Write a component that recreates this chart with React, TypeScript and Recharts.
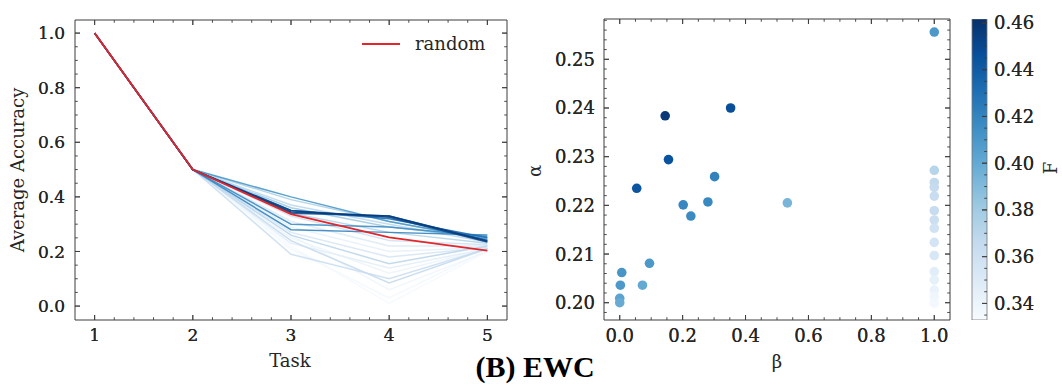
import React from "react";
import { LineChart, Line, XAxis, YAxis, Legend, ScatterChart, Scatter, Cell, BarChart, Bar } from "recharts";

const TASKS = [1, 2, 3, 4, 5];
const RANDOM = [1.0, 0.5, 0.337, 0.252, 0.203];

// forgetting F of each EWC run and its average accuracy after each task
const RUN_F = [0.334, 0.336, 0.338, 0.34, 0.343, 0.346, 0.35, 0.354, 0.358, 0.362, 0.366, 0.37, 0.372, 0.368, 0.375, 0.38, 0.41, 0.416, 0.42, 0.432, 0.442, 0.45, 0.458];
const RUN_ACC = [
  [1, 0.5, 0.22, 0.01, 0.2],
  [1, 0.5, 0.21, 0.03, 0.205],
  [1, 0.5, 0.26, 0.06, 0.2],
  [1, 0.5, 0.25, 0.12, 0.21],
  [1, 0.5, 0.29, 0.2, 0.215],
  [1, 0.5, 0.23, 0.14, 0.21],
  [1, 0.5, 0.31, 0.22, 0.22],
  [1, 0.5, 0.27, 0.18, 0.215],
  [1, 0.5, 0.33, 0.24, 0.225],
  [1, 0.5, 0.19, 0.1, 0.21],
  [1, 0.5, 0.24, 0.085, 0.21],
  [1, 0.5, 0.26, 0.155, 0.22],
  [1, 0.5, 0.34, 0.27, 0.23],
  [1, 0.5, 0.37, 0.3, 0.235],
  [1, 0.5, 0.39, 0.31, 0.24],
  [1, 0.5, 0.36, 0.29, 0.25],
  [1, 0.5, 0.4, 0.31, 0.245],
  [1, 0.5, 0.3, 0.29, 0.255],
  [1, 0.5, 0.28, 0.27, 0.26],
  [1, 0.5, 0.35, 0.32, 0.25],
  [1, 0.5, 0.34, 0.33, 0.24],
  [1, 0.5, 0.35, 0.325, 0.235],
  [1, 0.5, 0.345, 0.33, 0.238],
];

// hyper-parameter scatter: beta, alpha and the F of each point
const BETA = [1, 1, 1, 1, 1, 1, 1, 1, 1, 1, 1, 1, 1, 1, 1.0, 0.1445, 0.3525, 0.155, 0.054, 0.3016, 0.2018, 0.2803, 0.2261, 0.533, 0.0946, 0.0064, 0.002, 0.0723, 0.0, 0.0];
const ALPHA = [0.2272, 0.2247, 0.2237, 0.2219, 0.2189, 0.217, 0.2153, 0.2124, 0.2097, 0.2064, 0.2047, 0.2026, 0.2012, 0.1999, 0.2556, 0.2384, 0.24, 0.2294, 0.2235, 0.2259, 0.2201, 0.2207, 0.2178, 0.2205, 0.2081, 0.2062, 0.2036, 0.2036, 0.2009, 0.2];
const POINT_F = [0.371, 0.367, 0.365, 0.363, 0.364, 0.361, 0.358, 0.356, 0.353, 0.347, 0.344, 0.341, 0.338, 0.336, 0.41, 0.458, 0.447, 0.445, 0.443, 0.421, 0.419, 0.418, 0.417, 0.393, 0.41, 0.411, 0.409, 0.4, 0.403, 0.399];

const F_MIN = 0.3329;
const F_MAX = 0.4617;

const ACC_TICKS = [0, 0.2, 0.4, 0.6, 0.8, 1.0];
const BETA_TICKS = [0, 0.2, 0.4, 0.6, 0.8, 1.0];
const ALPHA_TICKS = [0.2, 0.21, 0.22, 0.23, 0.24, 0.25];
const F_TICKS = [0.34, 0.36, 0.38, 0.4, 0.42, 0.44, 0.46];

const FONT = "'DejaVu Serif', serif";
const INK = "#262626";
const FRAME = "#3c3c3c";
const BLUES = ["#f7fbff", "#deebf7", "#c6dbef", "#9ecae1", "#6baed6", "#4292c6", "#2171b5", "#08519c", "#08306b"];

const hex = (h: string) => [1, 3, 5].map((i) => parseInt(h.slice(i, i + 2), 16));
function blues(f: number) {
  const t = Math.max(0, Math.min(1, (f - F_MIN) / (F_MAX - F_MIN))) * 8;
  const i = Math.min(7, Math.floor(t));
  const k = t - i;
  const a = hex(BLUES[i]);
  const b = hex(BLUES[i + 1]);
  const c = a.map((v, j) => Math.round(v + (b[j] - v) * k));
  return `rgb(${c[0]},${c[1]},${c[2]})`;
}

function steps(from: number, to: number, step: number) {
  const out: number[] = [];
  const n = Math.round((to - from) / step);
  for (let i = 0; i <= n; i++) out.push(+(from + i * step).toFixed(6));
  return out;
}

type Side = "bottom" | "top" | "left" | "right";

const axisTick =
  (side: Side, majors: number[], fmt: ((v: number) => string) | null, size = 17, gap = 8) =>
  (p: any) => {
    const { x, y } = p;
    const v = p.payload.value;
    const major = majors.some((m) => Math.abs(m - v) < 1e-9);
    const len = major ? 5 : 2.8;
    const tl =
      side === "bottom"
        ? { x1: x, x2: x, y1: y, y2: y - len }
        : side === "top"
        ? { x1: x, x2: x, y1: y, y2: y + len }
        : side === "left"
        ? { x1: x, x2: x + len, y1: y, y2: y }
        : { x1: x, x2: x - len, y1: y, y2: y };
    let label = null;
    if (fmt && major) {
      const common = { fontFamily: FONT, fontSize: size, fill: INK };
      if (side === "bottom")
        label = (
          <text x={x} y={y + gap} dy="0.76em" textAnchor="middle" {...common}>
            {fmt(v)}
          </text>
        );
      else if (side === "left")
        label = (
          <text x={x - gap} y={y} dy="0.36em" textAnchor="end" {...common}>
            {fmt(v)}
          </text>
        );
      else if (side === "right")
        label = (
          <text x={x + gap} y={y} dy="0.36em" textAnchor="start" {...common}>
            {fmt(v)}
          </text>
        );
    }
    return (
      <g>
        <line {...tl} stroke={FRAME} strokeWidth={0.9} />
        {label}
      </g>
    );
  };

const axisLine = { stroke: FRAME, strokeWidth: 1 };

const lineData = TASKS.map((t, i) => {
  const row: any = { task: t, random: RANDOM[i] };
  RUN_ACC.forEach((r, j) => (row[`r${j}`] = r[i]));
  return row;
});
const lineOrder = RUN_F.map((f, i) => i).sort((a, b) => RUN_F[a] - RUN_F[b]);

const scatterData = BETA.map((b, i) => ({ beta: b, alpha: ALPHA[i], F: POINT_F[i] }));
const barData = [{ name: "F", span: [F_MIN, F_MAX] }];

const taskTicks = [...TASKS, ...steps(1, 5, 0.2)];
const accTicks = [...ACC_TICKS, ...steps(0, 1, 0.05)];
const betaTicks = [...BETA_TICKS, ...steps(0, 1, 0.05)];
const alphaTicks = [...ALPHA_TICKS, ...steps(0.198, 0.258, 0.002)];
const fTicks = [...F_TICKS, ...steps(0.335, 0.46, 0.005)];

const renderLegend = (props: any) => {
  const items = (props.payload || []).filter((e: any) => e.dataKey === "random");
  return (
    <div>
      {items.map((e: any) => (
        <div key={e.value} style={{ display: "flex", alignItems: "center", height: 22 }}>
          <svg width={42} height={22}>
            <line x1={2} x2={40} y1={11} y2={11} stroke={e.color} strokeWidth={1.8} />
          </svg>
          <span style={{ marginLeft: 13, fontFamily: FONT, fontSize: 18, color: INK, lineHeight: "22px" }}>
            {e.value}
          </span>
        </div>
      ))}
    </div>
  );
};

function AccuracyChart() {
  return (
    <LineChart width={520} height={392} data={lineData} margin={{ top: 19, right: 12, bottom: 71, left: 0 }}>
      <XAxis
        type="number"
        dataKey="task"
        domain={[0.8, 5.2]}
        allowDataOverflow
        ticks={taskTicks}
        interval={0}
        height={1}
        tickSize={0}
        tickMargin={0}
        tickLine={false}
        axisLine={axisLine}
        tick={axisTick("bottom", TASKS, (v) => String(v), 17, 8)}
      />
      <XAxis
        xAxisId="top"
        orientation="top"
        type="number"
        dataKey="task"
        domain={[0.8, 5.2]}
        allowDataOverflow
        ticks={taskTicks}
        interval={0}
        height={1}
        tickSize={0}
        tickMargin={0}
        tickLine={false}
        axisLine={axisLine}
        tick={axisTick("top", TASKS, null)}
      />
      <YAxis
        type="number"
        domain={[-0.051, 1.048]}
        allowDataOverflow
        ticks={accTicks}
        interval={0}
        width={75}
        tickSize={0}
        tickMargin={0}
        tickLine={false}
        axisLine={axisLine}
        tick={axisTick("left", ACC_TICKS, (v) => v.toFixed(1), 17, 10)}
      />
      <YAxis
        yAxisId="right"
        orientation="right"
        type="number"
        domain={[-0.051, 1.048]}
        allowDataOverflow
        ticks={accTicks}
        interval={0}
        width={1}
        tickSize={0}
        tickMargin={0}
        tickLine={false}
        axisLine={axisLine}
        tick={axisTick("right", ACC_TICKS, null)}
      />
      {lineOrder.map((i) => (
        <Line
          key={i}
          type="linear"
          dataKey={`r${i}`}
          stroke={blues(RUN_F[i])}
          strokeOpacity={0.9}
          strokeWidth={1.5}
          dot={false}
          legendType="none"
          isAnimationActive={false}
        />
      ))}
      <Line
        type="linear"
        dataKey="random"
        name="random"
        stroke="#e3262b"
        strokeWidth={1.8}
        dot={false}
        isAnimationActive={false}
      />
      <Legend
        layout="horizontal"
        verticalAlign="middle"
        align="center"
        content={renderLegend}
        wrapperStyle={{ top: 33, left: 360, width: 150 }}
      />
    </LineChart>
  );
}

function ParamChart() {
  return (
    <ScatterChart width={440} height={392} margin={{ top: 18, right: 9, bottom: 71, left: 0 }}>
      <XAxis
        type="number"
        dataKey="beta"
        domain={[-0.05, 1.05]}
        allowDataOverflow
        ticks={betaTicks}
        interval={0}
        height={1}
        tickSize={0}
        tickMargin={0}
        tickLine={false}
        axisLine={axisLine}
        tick={axisTick("bottom", BETA_TICKS, (v) => v.toFixed(1), 18, 8)}
      />
      <XAxis
        xAxisId="top"
        orientation="top"
        type="number"
        dataKey="beta"
        domain={[-0.05, 1.05]}
        allowDataOverflow
        ticks={betaTicks}
        interval={0}
        height={1}
        tickSize={0}
        tickMargin={0}
        tickLine={false}
        axisLine={axisLine}
        tick={axisTick("top", BETA_TICKS, null)}
      />
      <YAxis
        type="number"
        dataKey="alpha"
        domain={[0.19645, 0.25828]}
        allowDataOverflow
        ticks={alphaTicks}
        interval={0}
        width={84}
        tickSize={0}
        tickMargin={0}
        tickLine={false}
        axisLine={axisLine}
        tick={axisTick("left", ALPHA_TICKS, (v) => v.toFixed(2), 18, 9)}
      />
      <YAxis
        yAxisId="right"
        orientation="right"
        type="number"
        dataKey="alpha"
        domain={[0.19645, 0.25828]}
        allowDataOverflow
        ticks={alphaTicks}
        interval={0}
        width={1}
        tickSize={0}
        tickMargin={0}
        tickLine={false}
        axisLine={axisLine}
        tick={axisTick("right", ALPHA_TICKS, null)}
      />
      <Scatter
        data={scatterData}
        isAnimationActive={false}
        shape={(p: any) => <circle cx={p.cx} cy={p.cy} r={4.8} fill={p.fill} />}
      >
        {scatterData.map((d, i) => (
          <Cell key={i} fill={blues(d.F)} />
        ))}
      </Scatter>
    </ScatterChart>
  );
}

function ColorBar() {
  return (
    <BarChart width={102} height={392} data={barData} barCategoryGap={0} margin={{ top: 19, right: 0, bottom: 72, left: 12 }}>
      <defs>
        <linearGradient id="bluesGrad" x1="0" y1="1" x2="0" y2="0">
          {BLUES.map((c, i) => (
            <stop key={i} offset={i / 8} stopColor={c} />
          ))}
        </linearGradient>
      </defs>
      <XAxis type="category" dataKey="name" hide />
      <YAxis
        orientation="right"
        type="number"
        domain={[F_MIN, F_MAX]}
        allowDataOverflow
        ticks={fTicks}
        interval={0}
        width={75}
        tickSize={0}
        tickMargin={0}
        tickLine={false}
        axisLine={false}
        tick={axisTick("right", F_TICKS, (v) => v.toFixed(2), 18, 7)}
      />
      <Bar dataKey="span" fill="url(#bluesGrad)" stroke="#777" strokeWidth={0.8} isAnimationActive={false} />
    </BarChart>
  );
}

export default function App() {
  const label = { fontFamily: FONT, fontSize: 18, fill: INK };
  return (
    <div style={{ position: "absolute", left: 0, top: 0, width: 1062, height: 392, background: "#fff" }}>
      <div style={{ position: "absolute", left: 0, top: 0 }}>
        <AccuracyChart />
      </div>
      <div style={{ position: "absolute", left: 520, top: 0 }}>
        <ParamChart />
      </div>
      <div style={{ position: "absolute", left: 960, top: 0 }}>
        <ColorBar />
      </div>
      <svg width={1062} height={392} style={{ position: "absolute", left: 0, top: 0, pointerEvents: "none" }}>
        <text x={17.5} y={170} transform="rotate(-90 17.5 170)" textAnchor="middle" dominantBaseline="central" {...label}>
          Average Accuracy
        </text>
        <text x={290} y={360} textAnchor="middle" dominantBaseline="central" {...label}>
          Task
        </text>
        <text x={534} y={171} transform="rotate(-90 534 171)" textAnchor="middle" dominantBaseline="central" {...label}>
          α
        </text>
        <text x={777} y={361} textAnchor="middle" dominantBaseline="central" {...label}>
          β
        </text>
        <text x={1050} y={168} transform="rotate(-90 1050 168)" textAnchor="middle" dominantBaseline="central" {...label}>
          F
        </text>
        <text x={535} y={377} textAnchor="middle" fontFamily="'Liberation Serif', serif" fontWeight="bold" fontSize={30} fill="#000">
          (B) EWC
        </text>
      </svg>
    </div>
  );
}
